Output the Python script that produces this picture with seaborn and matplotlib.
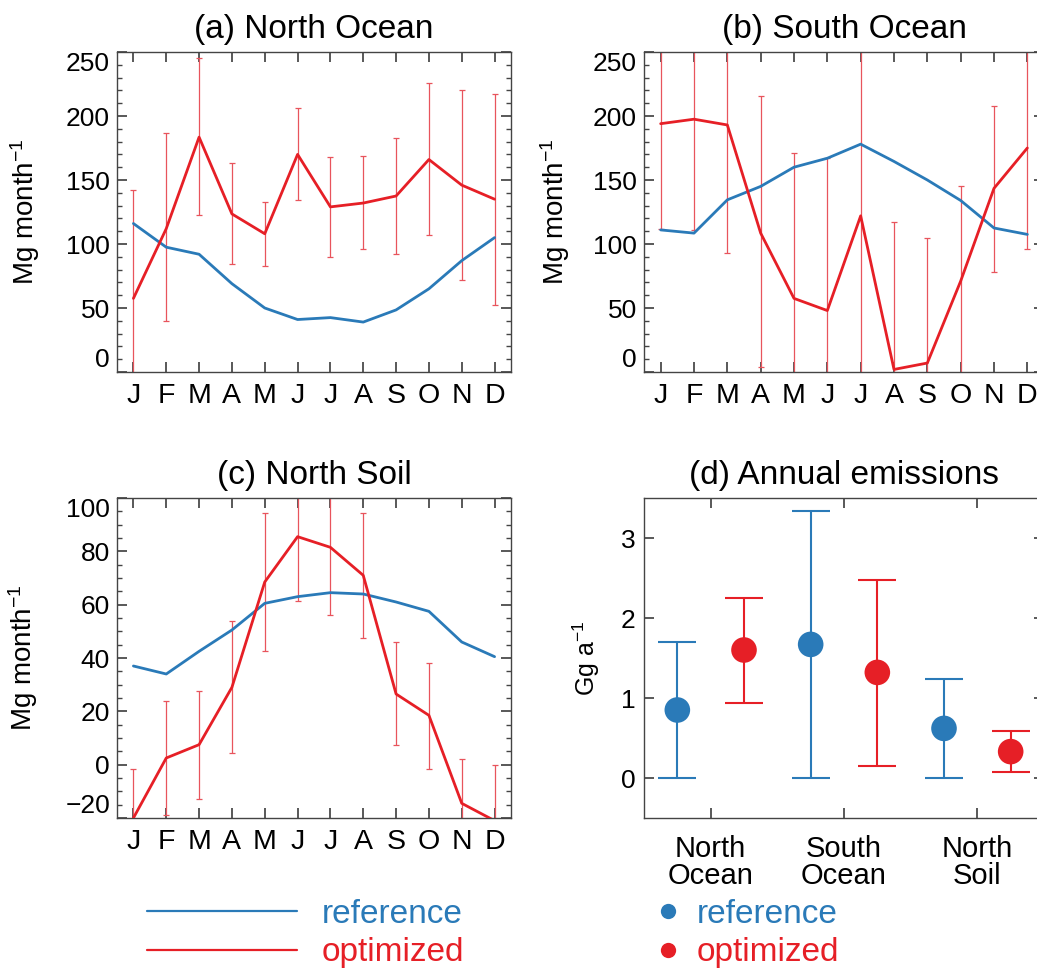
import numpy as np
import pandas as pd
import matplotlib
matplotlib.use("Agg")
import matplotlib.pyplot as plt
from matplotlib.ticker import MultipleLocator, FixedLocator
from matplotlib.lines import Line2D
import seaborn as sns

# ---------------- data ----------------
months = ['J', 'F', 'M', 'A', 'M', 'J', 'J', 'A', 'S', 'O', 'N', 'D']

a_ref = [116, 97.5, 92, 69, 50, 41, 42.5, 39, 48.5, 65, 87, 105]
a_opt = [57.5, 112, 183.5, 123.5, 108, 170, 129, 132, 137.5, 166, 146, 135]
a_lo = [-27, 40, 123, 84, 82.5, 134, 90, 96, 92, 107, 72, 52.5]
a_hi = [142, 187, 245, 163, 133, 206, 168, 168.5, 183, 226, 220, 217]

b_ref = [111, 108.5, 134.5, 145, 160, 167, 178, 164.5, 150, 134, 112.5, 107.5]
b_opt = [194, 197.5, 193, 108.5, 57.5, 48, 122, 2, 7, 71, 143.5, 175]
b_lo = [112, 111, 93, 4, -56, -71, -20, -113, -91, -3, 78, 96]
b_hi = [276, 284, 293, 215.5, 171, 167, 264, 117.5, 105, 145.5, 208, 254]

c_ref = [37, 34, 42.5, 50.5, 60.5, 63, 64.5, 64, 61, 57.5, 46, 40.5]
c_opt = [-20, 2.5, 7.5, 29, 68.5, 85.5, 81.5, 71, 26.5, 18.5, -14.5, -21]
c_lo = [-38.5, -19, -13, 4.5, 42.5, 61.5, 56, 47.5, 7.5, -1.5, -31, -42]
c_hi = [-1.5, 24, 27.5, 54, 94.5, 109.5, 107, 94.5, 46, 38, 2, 0]

d_cats = ['North\nOcean', 'South\nOcean', 'North\nSoil']
d_ref = [0.85, 1.67, 0.62]
d_ref_lo = [0.0, 0.0, 0.0]
d_ref_hi = [1.70, 3.34, 1.24]
d_opt = [1.60, 1.32, 0.33]
d_opt_lo = [0.94, 0.15, 0.075]
d_opt_hi = [2.25, 2.48, 0.59]

series_names = ['reference', 'optimized']
titles = ['(a) North Ocean', '(b) South Ocean', '(c) North Soil', '(d) Annual emissions']

BLUE = '#2a7ab8'
RED = '#e61f26'
ERR = '#e8545c'

# ---------------- style ----------------
sns.set_theme(style="ticks")
plt.rcParams['font.family'] = ['Liberation Sans', 'DejaVu Sans']
plt.rcParams['mathtext.fontset'] = 'custom'
plt.rcParams['mathtext.rm'] = 'Liberation Sans'
plt.rcParams['mathtext.it'] = 'Liberation Sans'
plt.rcParams['axes.edgecolor'] = '#444444'
plt.rcParams['axes.linewidth'] = 1.0
plt.rcParams['text.color'] = 'black'
plt.rcParams['axes.labelcolor'] = 'black'
plt.rcParams['axes.titlecolor'] = 'black'
plt.rcParams['xtick.labelcolor'] = 'black'
plt.rcParams['ytick.labelcolor'] = 'black'

W, H = 1037, 969
fig = plt.figure(figsize=(W / 100, H / 100), dpi=100)
fig.patch.set_facecolor('white')

ax_a = fig.add_axes([117 / W, 1 - 372 / H, 394 / W, 320 / H])
ax_b = fig.add_axes([644 / W, 1 - 372 / H, 400 / W, 320 / H])
ax_c = fig.add_axes([117 / W, 1 - 818 / H, 394 / W, 320 / H])
ax_d = fig.add_axes([644 / W, 1 - 818 / H, 400 / W, 320 / H])

ylabel_m = r'Mg month$^{-1}$'

monthly = [
    (ax_a, a_ref, a_opt, a_lo, a_hi, (0, 250), 50, 10, -0.19),
    (ax_b, b_ref, b_opt, b_lo, b_hi, (0, 250), 50, 10, -0.18),
    (ax_c, c_ref, c_opt, c_lo, c_hi, (-20, 100), 20, 5, -0.195),
]

line_handles = None
for i, (ax, ref, opt, lo, hi, ylim, major, minor, lx) in enumerate(monthly):
    idx = np.arange(len(months))
    df = pd.DataFrame({
        'm': np.concatenate([idx, idx]),
        'v': np.concatenate([ref, opt]),
        's': [series_names[0]] * len(idx) + [series_names[1]] * len(idx),
    })
    opt_arr = np.array(opt, dtype=float)
    yerr = np.vstack([opt_arr - np.array(lo, dtype=float),
                      np.array(hi, dtype=float) - opt_arr])
    ax.errorbar(idx, opt_arr, yerr=yerr, fmt='none', ecolor=ERR,
                elinewidth=0.9, capsize=2, capthick=0.9, zorder=1)
    sns.lineplot(data=df, x='m', y='v', hue='s', palette=[BLUE, RED],
                 linewidth=2.0, legend=False, ax=ax, zorder=3)
    ax.set_xlim(-0.5, len(months) - 0.5)
    ax.set_ylim(*ylim)
    ax.xaxis.set_major_locator(FixedLocator(idx))
    ax.set_xticklabels(months)
    yt = np.arange(ylim[0], ylim[1] + major / 2, major)
    ax.yaxis.set_major_locator(FixedLocator(yt))
    ax.set_yticklabels([f'{v:g}'.replace('-', '\u2212') for v in yt])
    ax.yaxis.set_minor_locator(MultipleLocator(minor))
    ax.tick_params(axis='both', which='both', direction='in', top=True, right=True,
                   color='#444444')
    ax.tick_params(axis='x', which='major', length=7, labelsize=20.5, pad=8)
    ax.tick_params(axis='y', which='major', length=7, labelsize=19, pad=5)
    ax.tick_params(axis='y', which='minor', length=3.5)
    ax.tick_params(axis='x', which='minor', length=0)
    ax.set_xlabel('')
    ax.set_ylabel(ylabel_m, fontsize=20)
    ax.yaxis.set_label_coords(lx, 0.5)
    ax.set_title(titles[i], fontsize=24, pad=10)
    labels = ax.get_yticklabels()
    labels[0].set_verticalalignment('bottom')
    labels[-1].set_verticalalignment('top')
    if line_handles is None:
        line_handles = [ax.lines[-2], ax.lines[-1]]

# ---------------- panel d ----------------
xi = np.arange(len(d_cats))
off = 0.25
dd = pd.DataFrame({
    'x': np.concatenate([xi - off, xi + off]),
    'v': np.concatenate([d_ref, d_opt]),
    's': [series_names[0]] * 3 + [series_names[1]] * 3,
})
for vals, lo, hi, sign, col in [(d_ref, d_ref_lo, d_ref_hi, -1, BLUE),
                                (d_opt, d_opt_lo, d_opt_hi, 1, RED)]:
    v = np.array(vals)
    ax_d.errorbar(xi + sign * off, v, yerr=np.vstack([v - np.array(lo), np.array(hi) - v]),
                  fmt='none', ecolor=col, elinewidth=1.5, capsize=14, capthick=1.5, zorder=1)
sns.scatterplot(data=dd, x='x', y='v', hue='s', palette=[BLUE, RED], s=340,
                edgecolor='none', legend=False, ax=ax_d, zorder=3)
ax_d.set_xlim(-0.5, 2.5)
ax_d.set_ylim(-0.5, 3.5)
ax_d.xaxis.set_major_locator(FixedLocator(xi))
ax_d.set_xticklabels(d_cats, linespacing=0.95)
ax_d.yaxis.set_major_locator(FixedLocator([0, 1, 2, 3]))
ax_d.tick_params(axis='both', which='both', direction='in', top=True, right=True,
                 color='#444444')
ax_d.tick_params(axis='x', length=7, labelsize=21, pad=12)
ax_d.tick_params(axis='y', length=7, labelsize=19, pad=6)
ax_d.set_xlabel('')
ax_d.set_ylabel(r'Gg a$^{-1}$', fontsize=18)
ax_d.yaxis.set_label_coords(-0.105, 0.5)
ax_d.set_title(titles[3], fontsize=24, pad=10)

# ---------------- legends ----------------
leg1 = fig.legend(handles=line_handles, labels=series_names, loc='upper left',
                  bbox_to_anchor=(147 / W, 1 - 899 / H), frameon=False,
                  fontsize=24, handlelength=4.5, handletextpad=0.75,
                  labelspacing=0.22, borderpad=0, borderaxespad=0,
                  labelcolor=[BLUE, RED])
for h in leg1.get_lines():
    h.set_linewidth(1.6)

dot_handles = [Line2D([], [], marker='o', linestyle='none', markersize=11,
                      markerfacecolor=c, markeredgecolor='none') for c in (BLUE, RED)]
fig.legend(handles=dot_handles, labels=series_names, loc='upper left',
           bbox_to_anchor=(658 / W, 1 - 899 / H), frameon=False,
           fontsize=24, handlelength=0.6, handletextpad=0.55,
           labelspacing=0.22, borderpad=0, borderaxespad=0,
           labelcolor=[BLUE, RED])

fig.savefig('out.png', dpi=100, facecolor='white')
